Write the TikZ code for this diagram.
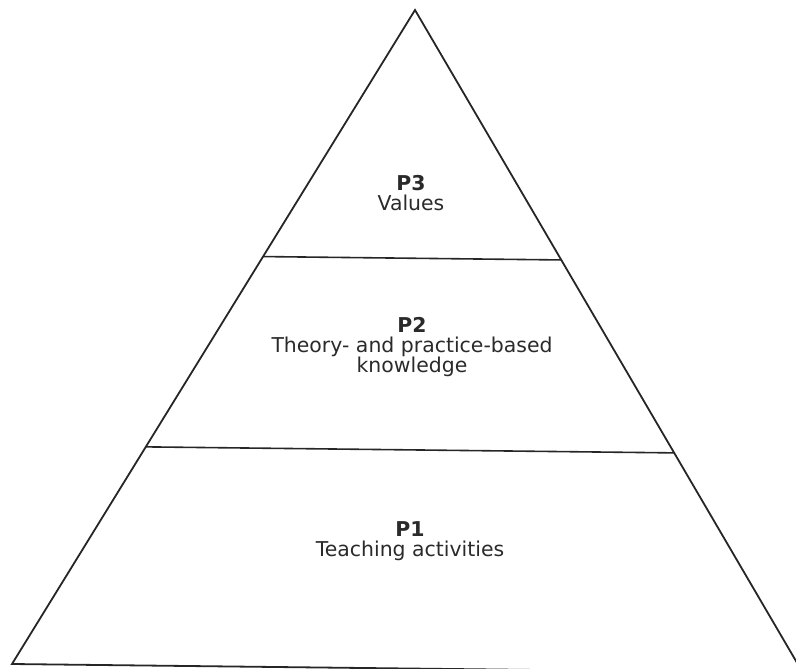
\documentclass[tikz,border=0pt]{standalone}
\usepackage{fontspec}
\setmainfont{DejaVu Sans}
\usetikzlibrary{calc}
\definecolor{ink}{HTML}{262626}
\definecolor{txt}{HTML}{2A2A2A}
\tikzset{
  edge/.style={draw=ink, line width=1.8bp, line join=miter},
  tier/.style={draw=ink, line width=1.6bp},
  label/.style={text=txt, font=\fontsize{20.5}{20}\selectfont, align=center, inner sep=0pt}
}
\begin{document}
\begin{tikzpicture}[x=1bp, y=-1bp]
  \useasboundingbox (0,0) rectangle (796,669);
  \clip (0,0) rectangle (796,669);
  % corners of the pyramid
  \coordinate (apex) at (415,10);
  \coordinate (bl) at (12,664);
  \coordinate (br) at (803,673);
  \draw[edge] (bl) -- (apex) -- (br) -- cycle;
  % tier boundaries
  \coordinate (l2) at ($(apex)!0.377!(bl)$);
  \coordinate (r2) at ($(apex)!0.377!(br)$);
  \coordinate (l1) at ($(apex)!0.668!(bl)$);
  \coordinate (r1) at ($(apex)!0.668!(br)$);
  \draw[tier] (l2) -- (r2);
  \draw[tier] (l1) -- (r1);
  % tier labels
  \node[label] (p3) at (411,193) {\textbf{P3}\\Values};
  \node[label] (p2) at (412,347) {\textbf{P2}\\Theory- and practice-based\\knowledge};
  \node[label] (p1) at (410,541) {\textbf{P1}\\Teaching activities};
\end{tikzpicture}
\end{document}
